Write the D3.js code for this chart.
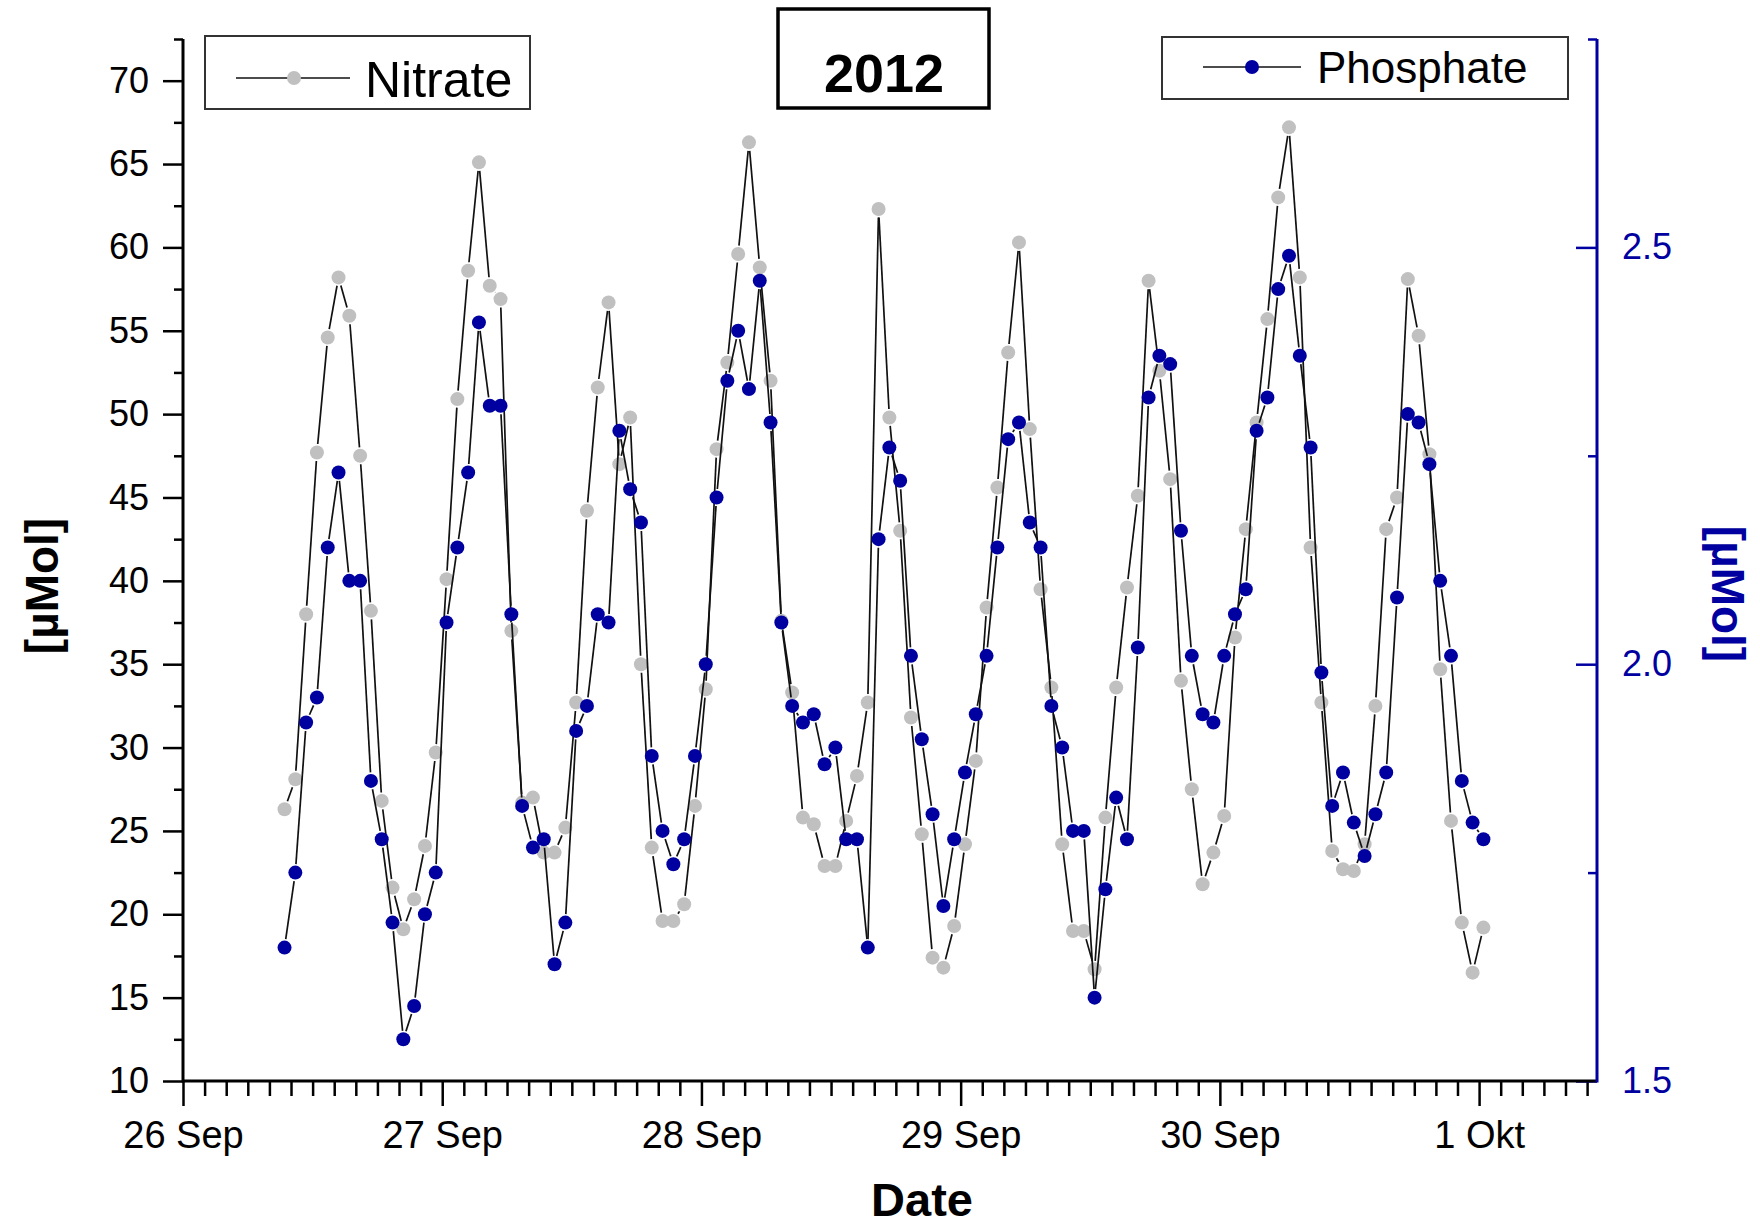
<!DOCTYPE html>
<html>
<head>
<meta charset="utf-8">
<script src="https://cdn.jsdelivr.net/npm/d3@7"></script>
<style>
  body { margin: 0; background: #fff; }
  svg { display: block; font-family: "Liberation Sans", Arial, sans-serif; }
</style>
</head>
<body>
<div id="chart"></div>
<script>
// DATA (hourly samples)
var startTime = new Date(2012, 8, 26, 9, 24);

var nitrate = [26.3, 28.1, 38.0, 47.7, 54.6, 58.2, 55.9, 47.5, 38.2, 26.8,
               21.6, 19.1, 20.9, 24.1, 29.7, 40.1, 50.9, 58.6, 65.1, 57.7,
               56.9, 37.0, 26.7, 27.0, 23.7, 23.7, 25.2, 32.7, 44.2, 51.6,
               56.7, 47.0, 49.8, 35.0, 24.0, 19.6, 19.6, 20.6, 26.5, 33.5,
               47.9, 53.1, 59.6, 66.3, 58.8, 52.0, 37.6, 33.3, 25.8, 25.4,
               22.9, 22.9, 25.6, 28.3, 32.7, 62.3, 49.8, 43.0, 31.8, 24.8,
               17.4, 16.8, 19.3, 24.2, 29.2, 38.4, 45.6, 53.7, 60.3, 49.1,
               39.5, 33.6, 24.2, 19.0, 19.0, 16.7, 25.8, 33.6, 39.6, 45.1,
               58.0, 52.6, 46.1, 34.0, 27.5, 21.8, 23.7, 25.9, 36.6, 43.1,
               49.5, 55.7, 63.0, 67.2, 58.2, 42.0, 32.7, 23.8, 22.7, 22.6,
               24.2, 32.5, 43.1, 45.0, 58.1, 54.7, 47.6, 34.7, 25.6, 19.5,
               16.5, 19.2];

var phosphate = [1.66, 1.75, 1.93, 1.96, 2.14, 2.23, 2.10, 2.10, 1.86, 1.79,
                 1.69, 1.55, 1.59, 1.70, 1.75, 2.05, 2.14, 2.23, 2.41, 2.31,
                 2.31, 2.06, 1.83, 1.78, 1.79, 1.64, 1.69, 1.92, 1.95, 2.06,
                 2.05, 2.28, 2.21, 2.17, 1.89, 1.80, 1.76, 1.79, 1.89, 2.00,
                 2.20, 2.34, 2.40, 2.33, 2.46, 2.29, 2.05, 1.95, 1.93, 1.94,
                 1.88, 1.90, 1.79, 1.79, 1.66, 2.15, 2.26, 2.22, 2.01, 1.91,
                 1.82, 1.71, 1.79, 1.87, 1.94, 2.01, 2.14, 2.27, 2.29, 2.17,
                 2.14, 1.95, 1.90, 1.80, 1.80, 1.60, 1.73, 1.84, 1.79, 2.02,
                 2.32, 2.37, 2.36, 2.16, 2.01, 1.94, 1.93, 2.01, 2.06, 2.09,
                 2.28, 2.32, 2.45, 2.49, 2.37, 2.26, 1.99, 1.83, 1.87, 1.81,
                 1.77, 1.82, 1.87, 2.08, 2.30, 2.29, 2.24, 2.10, 2.01, 1.86,
                 1.81, 1.79];

var dayTicks = [new Date(2012, 8, 26), new Date(2012, 8, 27), new Date(2012, 8, 28),
                new Date(2012, 8, 29), new Date(2012, 8, 30), new Date(2012, 9, 1)];
var dayLabels = ["26 Sep", "27 Sep", "28 Sep", "29 Sep", "30 Sep", "1 Okt"];
var leftTicks = [10, 15, 20, 25, 30, 35, 40, 45, 50, 55, 60, 65, 70];
var leftMinor = [12.5, 17.5, 22.5, 27.5, 32.5, 37.5, 42.5, 47.5, 52.5, 57.5, 62.5, 67.5, 72.5];
var rightTicks = [1.5, 2.0, 2.5];
var rightMinor = [1.75, 2.25, 2.75];

var times = nitrate.map(function(d, i) { return d3.timeHour.offset(startTime, i) });

// LAYOUT
var width = 1760, height = 1228;
var plot = {left: 183, right: 1597, top: 39, bottom: 1081};
var grey = "#c0c0c0", navy = "#0000a0";
var symbolR = 7;

var svg = d3.select("#chart").append("svg")
    .attr("width", width)
    .attr("height", height);

svg.append("rect").attr("width", width).attr("height", height).attr("fill", "#fff");

// SCALES
var xScale = d3.scaleTime()
    .domain([new Date(2012, 8, 26, 0, 0), new Date(2012, 9, 1, 10, 55)])
    .range([plot.left, plot.right]);

var yLeft = d3.scaleLinear().domain([10, 72.5]).range([plot.bottom, plot.top]);
var yRight = d3.scaleLinear().domain([1.5, 2.75]).range([plot.bottom, plot.top]);

var minorHours = d3.timeHour.every(2).range(xScale.domain()[0], xScale.domain()[1])
    .filter(function(d) { return d.getHours() !== 0 });

// lines leave a small gap around each symbol, like the original
var gap = 8.5;
function segments(values, yScale) {
  var pts = values.map(function(v, i) { return [xScale(times[i]), yScale(v)] });
  var out = [];
  for (var i = 0; i < pts.length - 1; i++) {
    var dx = pts[i + 1][0] - pts[i][0], dy = pts[i + 1][1] - pts[i][1];
    var len = Math.sqrt(dx * dx + dy * dy);
    if (len <= 2 * gap) continue;
    var ux = dx / len, uy = dy / len;
    out.push([pts[i][0] + ux * gap, pts[i][1] + uy * gap,
              pts[i + 1][0] - ux * gap, pts[i + 1][1] - uy * gap]);
  }
  return out;
}

function drawSeries(values, yScale, colour, cls) {
  var g = svg.append("g").attr("class", cls);
  g.selectAll("line")
    .data(segments(values, yScale))
    .enter().append("line")
    .attr("x1", function(d) { return d[0] })
    .attr("y1", function(d) { return d[1] })
    .attr("x2", function(d) { return d[2] })
    .attr("y2", function(d) { return d[3] })
    .attr("stroke", "#111")
    .attr("stroke-width", 1.7);
  g.selectAll("circle")
    .data(values)
    .enter().append("circle")
    .attr("cx", function(d, i) { return xScale(times[i]) })
    .attr("cy", function(d) { return yScale(d) })
    .attr("r", symbolR)
    .attr("fill", colour);
}

drawSeries(nitrate, yLeft, grey, "nitrate");
drawSeries(phosphate, yRight, navy, "phosphate");

// AXES
function styleAxis(sel, colour, fontSize) {
  sel.select(".domain").remove();
  sel.selectAll(".tick line").attr("stroke", colour).attr("stroke-width", 2.5);
  sel.selectAll(".tick text").attr("fill", colour).style("font-size", fontSize + "px")
     .style("font-family", "'Liberation Sans', Arial, sans-serif");
}

// left
svg.append("g")
  .attr("transform", "translate(" + plot.left + ",0)")
  .call(d3.axisLeft(yLeft).tickValues(leftMinor).tickSize(9).tickFormat(""))
  .call(styleAxis, "#000", 36);
svg.append("g")
  .attr("transform", "translate(" + plot.left + ",0)")
  .call(d3.axisLeft(yLeft).tickValues(leftTicks).tickSize(20).tickPadding(14))
  .call(styleAxis, "#000", 36);

// bottom
svg.append("g")
  .attr("transform", "translate(0," + plot.bottom + ")")
  .call(d3.axisBottom(xScale).tickValues(minorHours).tickSize(15).tickFormat(""))
  .call(styleAxis, "#000", 38);
svg.append("g")
  .attr("transform", "translate(0," + plot.bottom + ")")
  .call(d3.axisBottom(xScale).tickValues(dayTicks).tickSize(25).tickPadding(15)
    .tickFormat(function(d, i) { return dayLabels[i] }))
  .call(styleAxis, "#000", 38);

// right (ticks point inwards, labels outside)
svg.append("g")
  .attr("transform", "translate(" + plot.right + ",0)")
  .call(d3.axisLeft(yRight).tickValues(rightMinor).tickSize(9).tickFormat(""))
  .call(styleAxis, navy, 36);
svg.append("g")
  .attr("transform", "translate(" + plot.right + ",0)")
  .call(d3.axisLeft(yRight).tickValues(rightTicks).tickSize(21).tickFormat(""))
  .call(styleAxis, navy, 36);
svg.append("g")
  .attr("transform", "translate(" + plot.right + ",0)")
  .call(d3.axisRight(yRight).tickValues(rightTicks).tickSize(0).tickPadding(25)
    .tickFormat(d3.format(".1f")))
  .call(styleAxis, navy, 36);

// axis lines
svg.append("line").attr("x1", plot.left).attr("x2", plot.left)
  .attr("y1", plot.top).attr("y2", plot.bottom + 1.5)
  .attr("stroke", "#000").attr("stroke-width", 3);
svg.append("line").attr("x1", plot.left).attr("x2", plot.right)
  .attr("y1", plot.bottom).attr("y2", plot.bottom)
  .attr("stroke", "#000").attr("stroke-width", 3);
svg.append("line").attr("x1", plot.right).attr("x2", plot.right)
  .attr("y1", plot.top).attr("y2", plot.bottom + 1.5)
  .attr("stroke", navy).attr("stroke-width", 3);

// axis titles
svg.append("text")
  .attr("transform", "translate(58,586) rotate(-90)")
  .attr("text-anchor", "middle")
  .style("font-size", "46px").style("font-weight", "bold")
  .text("[µMol]");
svg.append("text")
  .attr("transform", "translate(1712,594) rotate(90)")
  .attr("text-anchor", "middle")
  .attr("fill", navy)
  .style("font-size", "46px").style("font-weight", "bold")
  .text("[µMol]");
svg.append("text")
  .attr("x", 922).attr("y", 1216)
  .attr("text-anchor", "middle")
  .style("font-size", "47px").style("font-weight", "bold")
  .text("Date");

// title box
svg.append("rect").attr("x", 778).attr("y", 9).attr("width", 211).attr("height", 99)
  .attr("fill", "#fff").attr("stroke", "#000").attr("stroke-width", 3.5);
svg.append("text")
  .attr("x", 884).attr("y", 92)
  .attr("text-anchor", "middle")
  .style("font-size", "54px").style("font-weight", "bold")
  .text("2012");

// legends
function legend(x, y, w, h, lineY, x1, x2, mx, colour, label, tx, ty, fs) {
  var g = svg.append("g");
  g.append("rect").attr("x", x).attr("y", y).attr("width", w).attr("height", h)
    .attr("fill", "#fff").attr("stroke", "#333").attr("stroke-width", 2);
  g.append("line").attr("x1", x1).attr("x2", x2).attr("y1", lineY).attr("y2", lineY)
    .attr("stroke", "#111").attr("stroke-width", 1.7);
  g.append("circle").attr("cx", mx).attr("cy", lineY).attr("r", symbolR).attr("fill", colour);
  g.append("text").attr("x", tx).attr("y", ty)
    .style("font-size", fs + "px").text(label);
}
legend(205, 36, 325, 73, 78, 236, 350, 294, grey, "Nitrate", 365, 97, 50);
legend(1162, 37, 406, 62, 67, 1203, 1301, 1252, navy, "Phosphate", 1317, 83, 44);
</script>
</body>
</html>
